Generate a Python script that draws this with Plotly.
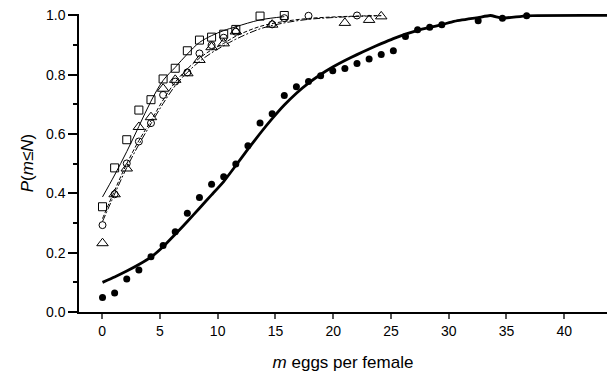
import plotly.graph_objects as go

# ---- data (x = eggs per female, y = cumulative probability) ----
filled_x = list(range(0, 29)) + [31, 33, 35]
filled_y = [0.049, 0.064, 0.111, 0.142, 0.186, 0.224, 0.271, 0.333, 0.386, 0.431,
            0.456, 0.499, 0.561, 0.637, 0.669, 0.730, 0.760, 0.777, 0.797, 0.814,
            0.821, 0.838, 0.853, 0.868, 0.881, 0.929, 0.952, 0.960, 0.969,
            0.982, 0.991, 0.999]

thick_x = list(range(0, 30)) + [31, 32, 33, 35, 42]
thick_y = [0.100, 0.118, 0.138, 0.160, 0.185, 0.220, 0.262, 0.305, 0.350, 0.395,
           0.440, 0.494, 0.549, 0.602, 0.652, 0.698, 0.738, 0.772, 0.801, 0.826,
           0.848, 0.868, 0.887, 0.905, 0.922, 0.937, 0.950, 0.960, 0.969, 0.980,
           0.993, 1.000, 0.991, 0.999, 1.000]

square_x = [0, 1, 2, 3, 4, 5, 6, 7, 8, 9, 10, 11, 13, 15]
square_y = [0.355, 0.486, 0.581, 0.681, 0.716, 0.786, 0.822, 0.881, 0.917, 0.927,
            0.937, 0.953, 0.998, 1.000]

circle_x = [0, 1, 2, 3, 4, 5, 6, 7, 8, 9, 10, 11, 14, 15, 17, 21]
circle_y = [0.293, 0.397, 0.501, 0.575, 0.637, 0.732, 0.777, 0.808, 0.872, 0.900,
            0.925, 0.945, 0.970, 0.991, 0.999, 1.000]

triangle_x = [0, 1, 2, 3, 4, 5, 6, 7, 8, 9, 10, 11, 14, 20, 22, 23]
triangle_y = [0.232, 0.397, 0.484, 0.624, 0.657, 0.753, 0.783, 0.805, 0.850, 0.893,
              0.906, 0.946, 0.969, 0.975, 0.985, 0.997]

fit_sq_x = [0, 1, 2, 3, 4, 5, 6, 7, 8, 9, 10, 11, 13, 15]
fit_sq_y = [0.388, 0.462, 0.541, 0.626, 0.711, 0.781, 0.825, 0.870, 0.909, 0.932,
            0.949, 0.962, 0.985, 0.996]

fit_ci_x = [0, 1, 2, 3, 4, 5, 6, 7, 8, 9, 10, 11, 13, 15, 17, 19, 21, 23]
fit_ci_y = [0.315, 0.410, 0.500, 0.578, 0.645, 0.715, 0.775, 0.820, 0.856, 0.884,
            0.906, 0.930, 0.963, 0.980, 0.990, 0.995, 0.998, 1.000]

fit_tr_x = [0, 1, 2, 3, 4, 5, 6, 7, 8, 9, 10, 11, 13, 15, 17, 19, 21, 23]
fit_tr_y = [0.305, 0.398, 0.487, 0.565, 0.635, 0.703, 0.763, 0.808, 0.845, 0.874,
            0.898, 0.920, 0.955, 0.975, 0.987, 0.993, 0.997, 0.999]

x_ticks = [0, 5, 10, 15, 20, 25, 30, 35, 40]
y_ticks = [0.0, 0.2, 0.4, 0.6, 0.8, 1.0]

FONT = "Liberation Sans, Arial, sans-serif"

fig = go.Figure()

common = dict(xaxis="x", yaxis="y", showlegend=False, cliponaxis=False)

fig.add_trace(go.Scatter(x=fit_sq_x, y=fit_sq_y, mode="lines", line_shape="spline",
                         line=dict(color="black", width=1), **common))
fig.add_trace(go.Scatter(x=fit_ci_x, y=fit_ci_y, mode="lines", line_shape="spline",
                         line=dict(color="black", width=1, dash="4px,2px"), **common))
fig.add_trace(go.Scatter(x=fit_tr_x, y=fit_tr_y, mode="lines", line_shape="spline",
                         line=dict(color="black", width=1, dash="7px,2px,2px,2px"), **common))
fig.add_trace(go.Scatter(x=thick_x, y=thick_y, mode="lines", line_shape="spline",
                         line=dict(color="black", width=2.8, smoothing=0.4), **common))

fig.add_trace(go.Scatter(x=filled_x, y=filled_y, mode="markers",
                         marker=dict(symbol="circle", size=7, color="black"), **common))
fig.add_trace(go.Scatter(x=square_x, y=square_y, mode="markers",
                         marker=dict(symbol="square-open", size=8, color="black",
                                     line=dict(width=1)), **common))
fig.add_trace(go.Scatter(x=circle_x, y=circle_y, mode="markers",
                         marker=dict(symbol="circle-open", size=7, color="black",
                                     line=dict(width=1)), **common))
fig.add_trace(go.Scatter(x=triangle_x, y=triangle_y, mode="markers",
                         marker=dict(symbol="triangle-up-open", size=10, color="black",
                                     line=dict(width=1)), **common))

# empty trace on the labelled axis so that it is drawn
fig.add_trace(go.Scatter(x=[None], y=[None], mode="markers", xaxis="x2", yaxis="y",
                         showlegend=False, hoverinfo="skip"))

fig.update_layout(
    width=607, height=376,
    margin=dict(l=79, r=0, t=14, b=64, autoexpand=False),
    paper_bgcolor="white", plot_bgcolor="white",
    font=dict(family=FONT, color="black", size=14),
    xaxis=dict(
        range=[-1.94, 41.63], showticklabels=False, ticks="", showline=True,
        linecolor="black", linewidth=1.5, showgrid=False, zeroline=False,
        anchor="y", automargin=False,
    ),
    xaxis2=dict(
        range=[-2.0, 43.7], tickvals=x_ticks, ticks="outside", ticklen=5,
        tickcolor="#555", tickwidth=1.5, showline=True, linecolor="black", linewidth=1.5,
        showgrid=False, zeroline=False, tickfont=dict(size=14), anchor="y",
        overlaying="x", side="bottom", automargin=False,
        title=dict(text="<i>m</i> eggs per female", font=dict(size=17), standoff=19),
    ),
    yaxis=dict(
        range=[0, 1.005], tickvals=y_ticks, tickformat=".1f", ticks="outside",
        ticklen=9, tickcolor="black", tickwidth=1.5, showline=True, linecolor="black",
        linewidth=1.5, showgrid=False, zeroline=False, tickfont=dict(size=14),
        anchor="x", automargin=False,
        minor=dict(dtick=0.1, ticks="outside", ticklen=4, tickcolor="black", tickwidth=1.5),
        title=dict(text="<i>P</i>(<i>m</i>≤<i>N</i>)", font=dict(size=17), standoff=8),
    ),
)

fig.write_html("out.html", config={"displayModeBar": False},
               post_script="document.body.style.margin='0px';")
